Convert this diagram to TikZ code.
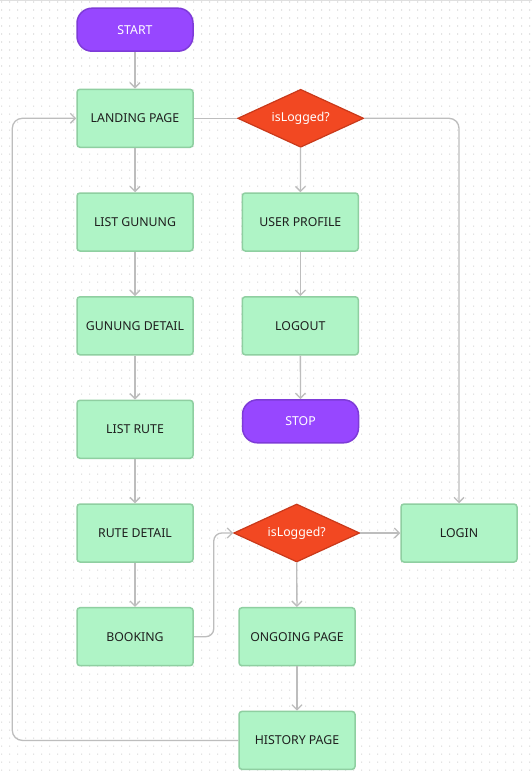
\documentclass[tikz,border=0pt]{standalone}
\usepackage{fontspec}
\setmainfont{Noto Sans}
\usetikzlibrary{shapes.geometric,arrows.meta}
\definecolor{gfill}{HTML}{AFF4C6}
\definecolor{gline}{HTML}{8FCFA1}
\definecolor{pfill}{HTML}{9747FF}
\definecolor{pline}{HTML}{7E3BD8}
\definecolor{rfill}{HTML}{F24822}
\definecolor{rline}{HTML}{C9391A}
\definecolor{conc}{HTML}{BDBDBD}
\definecolor{dotc}{HTML}{D6D6D6}
\definecolor{txt}{HTML}{1E1E1E}
\tikzset{
  pagebox/.style={draw=gline, fill=gfill, line width=1.5pt, rounded corners=3pt,
    minimum width=116pt, minimum height=58pt, inner sep=0pt, text=txt,
    font=\fontsize{12.3}{14}\selectfont},
  termbox/.style={draw=pline, fill=pfill, line width=1.5pt, rounded corners=15pt,
    minimum width=116pt, minimum height=43pt, inner sep=0pt, text=white,
    font=\fontsize{12.3}{14}\selectfont},
  decbox/.style={diamond, aspect=2.17, draw=rline, fill=rfill, line width=1.2pt,
    minimum width=126pt, minimum height=58pt, inner sep=0pt, text=white,
    font=\fontsize{12.3}{14}\selectfont},
  conn/.style={draw=conc, line width=1.3pt, rounded corners=10pt},
  arr/.style={conn, -{Straight Barb[length=5pt,width=10pt]}}
}
\begin{document}
\begin{tikzpicture}[x=1pt,y=-1pt]
\useasboundingbox (0,0) rectangle (532,776);
\fill[white] (0,0) rectangle (532,776);
\fill[dotc] \foreach \i in {0,...,66} {\foreach \j in {0,...,96} {({1+8*\i},{1.5+8*\j}) rectangle ++(1.1,1.1)}};
\draw[gray!25, line width=1pt] (0,0.5) -- (532,0.5);

\node[termbox] (start) at (135,29.7) {START};
\node[pagebox] (landing) at (135,118.3) {LANDING PAGE};
\node[decbox] (dec1) at (300.7,118.3) {isLogged?};
\node[pagebox] (listg) at (135,222) {LIST GUNUNG};
\node[pagebox] (user) at (300.3,222) {USER PROFILE};
\node[pagebox] (gdet) at (135,325.8) {GUNUNG DETAIL};
\node[pagebox] (logout) at (300.3,325.8) {LOGOUT};
\node[pagebox] (listr) at (135,429.3) {LIST RUTE};
\node[termbox] (stop) at (300.5,421.3) {STOP};
\node[pagebox] (rdet) at (135,533) {RUTE DETAIL};
\node[decbox] (dec2) at (296.7,533) {isLogged?};
\node[pagebox] (login) at (459,533) {LOGIN};
\node[pagebox] (booking) at (135,636.7) {BOOKING};
\node[pagebox] (ongoing) at (297,636.7) {ONGOING PAGE};
\node[pagebox] (history) at (297,740.4) {HISTORY PAGE};
\coordinate (loopx) at (12.3,0);

\draw[arr] (start) -- (landing);
\draw[conn] (landing) -- (dec1);
\draw[arr] (dec1.east) -| (login.north);
\draw[arr] (dec1) -- (user);
\draw[arr] (user) -- (logout);
\draw[arr] (logout) -- (stop);
\draw[arr] (landing) -- (listg);
\draw[arr] (listg) -- (gdet);
\draw[arr] (gdet) -- (listr);
\draw[arr] (listr) -- (rdet);
\draw[arr] (rdet) -- (booking);
\draw[arr, rounded corners=8pt] (booking.east) -- ++(20,0) |- (dec2.west);
\draw[arr] (dec2) -- (login);
\draw[arr] (dec2) -- (ongoing);
\draw[arr] (ongoing) -- (history);
\draw[arr] (history.west) -- (history.west -| loopx) -- (landing.west -| loopx) -- (landing.west);
\end{tikzpicture}
\end{document}
